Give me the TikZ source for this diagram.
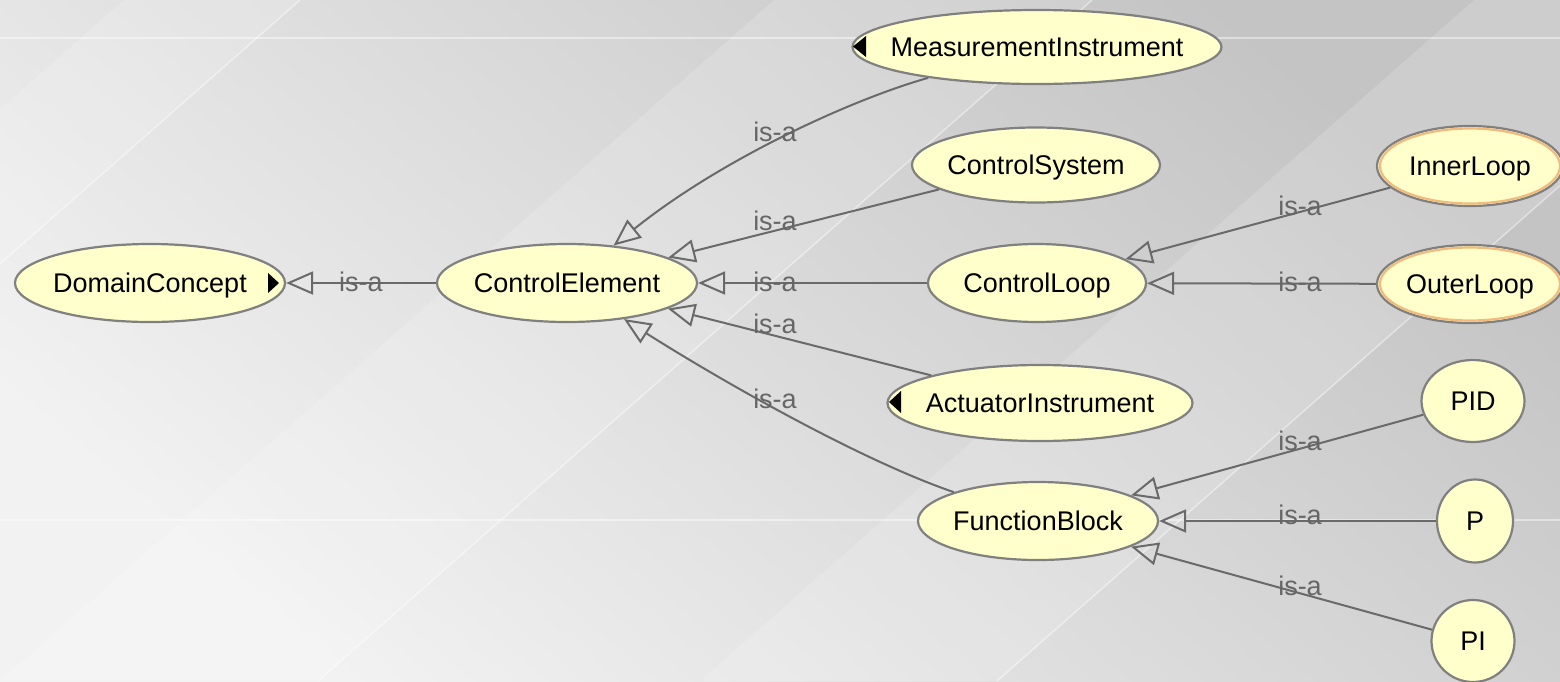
\documentclass[tikz,border=0pt]{standalone}
\usepackage{fontspec}
\setmainfont{Liberation Sans}
\usetikzlibrary{shapes.geometric,arrows.meta}
\definecolor{nodefill}{HTML}{FFFFCC}
\definecolor{nodeline}{HTML}{808080}
\definecolor{edgecol}{HTML}{6A6A6A}
\definecolor{labcol}{HTML}{666666}
\definecolor{loopline}{HTML}{F0B070}
\definecolor{bgL}{HTML}{F2F2F2}
\definecolor{bgD}{HTML}{C4C4C4}
\newcommand\zb[1]{\makebox[0pt][c]{#1}}
\begin{document}
\begin{tikzpicture}[x=0.5pt,y=-0.5pt,
  cls/.style={ellipse, draw=nodeline, line width=1.1pt, fill=nodefill, inner sep=0pt,
              text depth=0pt, font=\fontsize{13.5pt}{16pt}\selectfont},
  isa/.style={draw=edgecol, line width=1pt,
              -{Triangle[open, length=13.5pt, width=11.5pt, line width=1pt]}},
  lab/.style={text=labcol, inner sep=0pt, text depth=0pt, font=\fontsize{13.5pt}{16pt}\selectfont},
  band/.style={fill=white, opacity=0.16},
  bandedge/.style={draw=white, opacity=0.45, line width=0.7pt},
  tri/.style={fill=black}
  ]
\useasboundingbox (0,0) rectangle (1560,681);
% background
\shade[top color=bgD, bottom color=bgL, shading angle=-40] (0,0) rectangle (1560,681);
\fill[band] (-650,681) -- (124,0) -- (300,0) -- (-474,681) -- cycle;
\fill[band] (0,681) -- (774,0) -- (1092,0) -- (318,681) -- cycle;
\fill[band] (700,681) -- (1474,0) -- (1771,0) -- (997,681) -- cycle;
\draw[bandedge] (318,681) -- (1092,0);
\draw[bandedge] (997,681) -- (1771,0);
\draw[bandedge] (-474,681) -- (300,0);
\draw[bandedge] (0,38) -- (1560,38);
\draw[bandedge] (0,520) -- (1560,520);

% nodes
\node[cls, minimum width=135pt,   minimum height=39pt]   (dc)  at (150,283)  {\zb{DomainConcept}};
\node[cls, minimum width=130pt,   minimum height=39pt]   (ce)  at (567,283)  {\zb{ControlElement}};
\node[cls, minimum width=184.5pt, minimum height=37pt]   (mi)  at (1037,47)  {\zb{MeasurementInstrument}};
\node[cls, minimum width=124pt,   minimum height=37.5pt] (cs)  at (1036,165) {\zb{ControlSystem}};
\node[cls, minimum width=109pt,   minimum height=39pt]   (cl)  at (1037,283) {\zb{ControlLoop}};
\node[cls, minimum width=152.5pt, minimum height=38pt]   (ai)  at (1040,403) {\zb{ActuatorInstrument}};
\node[cls, minimum width=120pt,   minimum height=39pt]   (fb)  at (1038,521) {\zb{FunctionBlock}};
\node[cls, minimum width=93pt,    minimum height=40pt]   (il)  at (1470,166) {\zb{InnerLoop}};
\node[cls, minimum width=93pt,    minimum height=39pt]   (ol)  at (1470,284) {\zb{OuterLoop}};
\node[cls, minimum width=51.5pt,  minimum height=41pt]   (pid) at (1473,401) {\zb{PID}};
\node[cls, minimum width=38pt,    minimum height=41.5pt] (p)   at (1475,521) {\zb{P}};
\node[cls, minimum width=41.5pt,  minimum height=41pt]   (pi)  at (1473,641) {\zb{PI}};

% orange inner rims
\draw[loopline, line width=1.1pt, opacity=0.85] (il.center) ellipse [x radius=90, y radius=37.5];
\draw[loopline, line width=1.1pt, opacity=0.85] (ol.center) ellipse [x radius=90, y radius=36.5];

% black triangles
\fill[tri] (268,273) -- (268,293) -- (279,283) -- cycle;
\fill[tri] (866,36) -- (866,57) -- (853,46.5) -- cycle;
\fill[tri] (901,391) -- (901,413) -- (889,402) -- cycle;

% connectors
\draw[isa] (ce) -- (dc);
\draw[isa] (mi) .. controls (850,100) and (720,160) .. (ce);
\draw[isa] (cs) -- (ce);
\draw[isa] (cl) -- (ce);
\draw[isa] (ai) -- (ce);
\draw[isa] (fb) .. controls (860,460) and (720,380) .. (ce);
\draw[isa] (il) -- (cl);
\draw[isa] (ol) -- (cl);
\draw[isa] (pid) -- (fb);
\draw[isa] (p) -- (fb);
\draw[isa] (pi) -- (fb);

% labels
\node[lab] (l1)  at (361,282)  {is-a};
\node[lab] (l2)  at (775,132)  {is-a};
\node[lab] (l3)  at (775,221)  {is-a};
\node[lab] (l4)  at (775,282)  {is-a};
\node[lab] (l5)  at (775,324)  {is-a};
\node[lab] (l6)  at (775,399)  {is-a};
\node[lab] (l7)  at (1300,206) {is-a};
\node[lab] (l8)  at (1300,282) {is-a};
\node[lab] (l9)  at (1300,441) {is-a};
\node[lab] (l10) at (1300,515) {is-a};
\node[lab] (l11) at (1300,586) {is-a};
\end{tikzpicture}
\end{document}
